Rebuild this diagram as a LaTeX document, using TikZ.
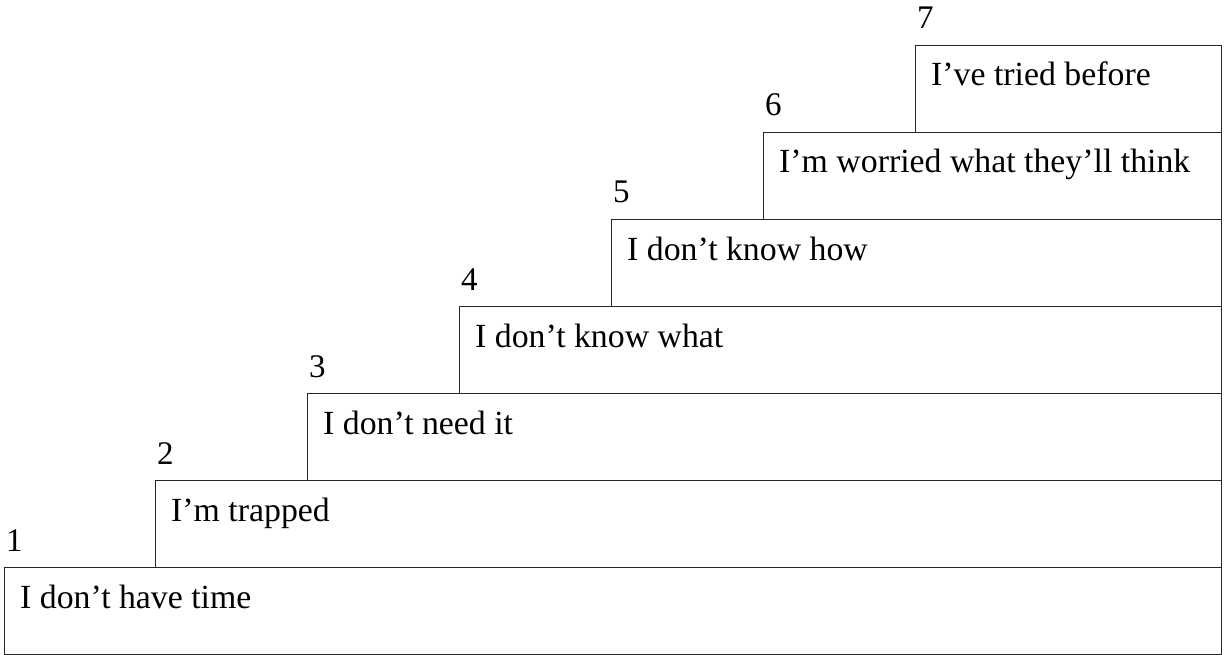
\documentclass[tikz,border=0pt]{standalone}
\usepackage{fontspec}
\setmainfont{Liberation Serif}
\begin{document}
\begin{tikzpicture}[x=1pt,y=-1pt,
  stepbox/.style={draw=black!85, line width=1.4pt, inner sep=0pt, anchor=north west, minimum height=87pt},
  steplabel/.style={anchor=base west, inner sep=0pt, font=\fontsize{33.8}{38}\selectfont},
  stepnum/.style={anchor=base west, inner sep=0pt, font=\fontsize{33}{37}\selectfont}]
\useasboundingbox (0,0) rectangle (1225,655);
\foreach \i/\x/\y/\t in {1/4/567/{I don’t have time},
                          2/155/480/{I’m trapped},
                          3/307/393/{I don’t need it},
                          4/459/306/{I don’t know what},
                          5/611/219/{I don’t know how},
                          6/763/132/{I’m worried what they’ll think},
                          7/915/45/{I’ve tried before}}{
  \pgfmathsetmacro{\w}{1221-\x}
  \node[stepbox, minimum width=\w pt] (box\i) at (\x,\y) {};
  \node[steplabel] (text\i) at ([xshift=16pt,yshift=-41pt]box\i.north west) {\t};
  \node[stepnum] (num\i) at ([xshift=2pt,yshift=16pt]box\i.north west) {\i};
}
\end{tikzpicture}
\end{document}
